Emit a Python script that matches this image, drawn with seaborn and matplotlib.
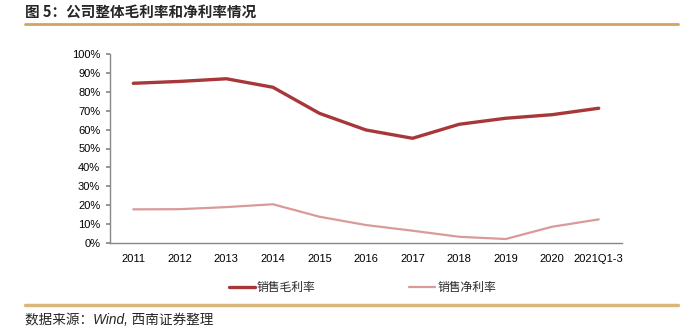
import matplotlib
matplotlib.use("Agg")
import matplotlib.pyplot as plt
import seaborn as sns
import pandas as pd
from matplotlib.lines import Line2D
from matplotlib.ticker import PercentFormatter

categories = ["2011", "2012", "2013", "2014", "2015", "2016", "2017", "2018", "2019", "2020", "2021Q1-3"]
gross_margin = [84.5, 85.5, 86.9, 82.4, 68.6, 59.8, 55.4, 62.8, 66.0, 67.9, 71.3]
net_margin = [17.8, 17.9, 19.0, 20.5, 13.9, 9.5, 6.5, 3.3, 2.1, 8.6, 12.5]
series_names = ["销售毛利率", "销售净利率"]
colors = ["#A8373A", "#DA9A9A"]

sns.set_theme(style="white")
plt.rcParams['font.family'] = ['Liberation Sans', 'Noto Sans CJK SC', 'DejaVu Sans']

pos = list(range(len(categories)))
df = pd.DataFrame({
    "pos": pos * 2,
    "value": gross_margin + net_margin,
    "series": [series_names[0]] * len(pos) + [series_names[1]] * len(pos),
})

fig = plt.figure(figsize=(6.9, 3.31), dpi=100)
ax = fig.add_axes([110/690, 1-243/331, (622-110)/690, (243-54)/331])

sns.lineplot(data=df, x="pos", y="value", hue="series", palette=colors,
             hue_order=series_names, ax=ax, legend=False)
ax.lines[0].set_linewidth(2.4)
ax.lines[1].set_linewidth(1.6)

ax.set_xlim(-0.5, len(categories) - 0.5)
ax.set_ylim(0, 100)
ax.set_yticks(range(0, 101, 10))
ax.yaxis.set_major_formatter(PercentFormatter(decimals=0))
ax.set_xticks(pos)
ax.set_xticklabels(categories)
ax.set_xlabel("")
ax.set_ylabel("")
ax.tick_params(axis='both', labelsize=8, colors="#000000", length=0, pad=4)
ax.tick_params(axis='x', pad=8)
ax.tick_params(axis='y', which='major', left=True, length=3, color="#888888", direction='out')
for s in ["top", "right"]:
    ax.spines[s].set_visible(False)
for s in ["left", "bottom"]:
    ax.spines[s].set_color("#888888")
    ax.spines[s].set_linewidth(1.0)

handles = [Line2D([], [], color=colors[0], lw=2.4), Line2D([], [], color=colors[1], lw=1.6)]
fig.legend(handles, series_names, loc="center", bbox_to_anchor=(0.525, 0.13), ncol=2,
           frameon=False, handlelength=2.2, handletextpad=0.15, columnspacing=8.0,
           prop={'family': ['Noto Sans CJK SC', 'DejaVu Sans'], 'size': 8.5})

# header and footer
fig.text(25/690, 1-12/331, "图 5：公司整体毛利率和净利率情况", fontsize=10.5, fontweight='bold',
         family=['Noto Sans CJK SC', 'DejaVu Sans'], va='center', ha='left')
fig.add_artist(Line2D([25/690, 678/690], [1-24/331, 1-24/331], color="#D4A35E", lw=2.0))
fig.add_artist(Line2D([25/690, 678/690], [1-305/331, 1-305/331], color="#D9B77A", lw=2.5))
fig.text(25/690, 1-320/331, "数据来源：Wind, 西南证券整理", fontsize=9.8, style='italic',
         family=['Liberation Sans', 'Noto Sans CJK SC', 'DejaVu Sans'], va='center', ha='left')

fig.savefig("out.png", dpi=100)
